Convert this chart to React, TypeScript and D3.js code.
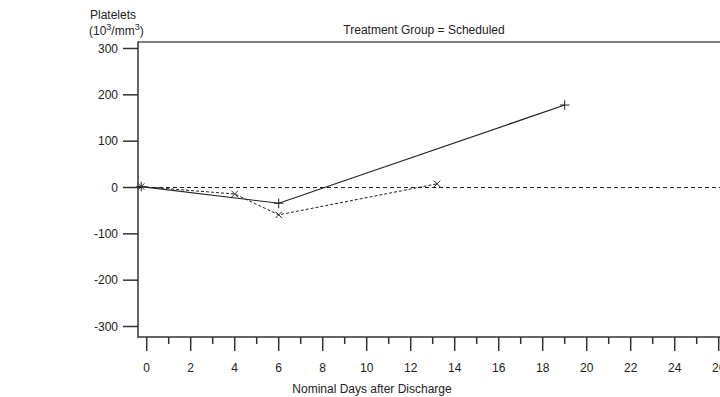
import React, { useEffect, useRef } from 'react';
import * as d3 from 'd3';

const scheduledDays = [-0.25, 6, 19];
const scheduledValues = [2, -34, 178];
const otherDays = [-0.25, 4, 6, 13.2];
const otherValues = [2, -14, -59, 8];
const yTicks = [-300, -200, -100, 0, 100, 200, 300];
const xMajorTicks = [0, 2, 4, 6, 8, 10, 12, 14, 16, 18, 20, 22, 24, 26];
const xMinorTicks = [1, 3, 5, 7, 9, 11, 13, 15, 17, 19, 21, 23, 25];

const W = 720;
const H = 397;
const FONT = '"Liberation Sans Narrow", "Arial Narrow", "Liberation Sans", Arial, sans-serif';

const App = () => {
  const svgRef = useRef<SVGSVGElement>(null);

  useEffect(() => {
    const svg = d3.select(svgRef.current);
    svg.selectAll('*').remove();

    // plot frame
    const left = 138;
    const right = W;
    const top = 42;
    const bottom = 337;

    const x = d3.scaleLinear().domain([0, 26]).range([146.7, 718.7]);
    const y = d3.scaleLinear().domain([-300, 300]).range([326.5, 48.5]);

    const ink = '#333';

    svg.append('line')
      .attr('x1', left).attr('x2', right).attr('y1', top).attr('y2', top)
      .attr('stroke', '#555').attr('stroke-width', 1.5);
    svg.append('line')
      .attr('x1', left).attr('x2', left).attr('y1', top - 0.75).attr('y2', bottom + 0.75)
      .attr('stroke', ink).attr('stroke-width', 1.5);
    svg.append('line')
      .attr('x1', left).attr('x2', right).attr('y1', bottom).attr('y2', bottom)
      .attr('stroke', ink).attr('stroke-width', 1.5);

    // y axis ticks
    const yAxis = svg.append('g');
    yTicks.forEach(t => {
      yAxis.append('line')
        .attr('x1', left - 15).attr('x2', left).attr('y1', y(t)).attr('y2', y(t))
        .attr('stroke', ink).attr('stroke-width', 1.5);
      yAxis.append('text')
        .attr('x', left - 20).attr('y', y(t)).attr('dy', '0.35em')
        .attr('text-anchor', 'end')
        .text(t);
    });

    // x axis ticks
    const xAxis = svg.append('g');
    xMajorTicks.forEach(t => {
      xAxis.append('line')
        .attr('x1', x(t)).attr('x2', x(t)).attr('y1', bottom).attr('y2', bottom + 14)
        .attr('stroke', ink).attr('stroke-width', 1.5);
      xAxis.append('text')
        .attr('x', x(t)).attr('y', 368).attr('dy', '0.35em')
        .attr('text-anchor', 'middle')
        .text(t);
    });
    xMinorTicks.forEach(t => {
      xAxis.append('line')
        .attr('x1', x(t)).attr('x2', x(t)).attr('y1', bottom).attr('y2', bottom + 7)
        .attr('stroke', ink).attr('stroke-width', 1.5);
    });

    svg.selectAll('text')
      .attr('font-family', FONT).attr('font-size', 12).attr('fill', '#222');

    // reference line at zero
    svg.append('line')
      .attr('x1', left).attr('x2', right).attr('y1', y(0)).attr('y2', y(0))
      .attr('stroke', '#222').attr('stroke-width', 1)
      .attr('stroke-dasharray', '4,3');

    const line = d3.line<[number, number]>()
      .x(d => x(d[0]))
      .y(d => y(d[1]));

    const scheduled: [number, number][] = scheduledDays.map((d, i) => [d, scheduledValues[i]]);
    const other: [number, number][] = otherDays.map((d, i) => [d, otherValues[i]]);

    svg.append('path')
      .datum(other)
      .attr('fill', 'none').attr('stroke', '#222').attr('stroke-width', 1)
      .attr('stroke-dasharray', '3,2')
      .attr('d', line);

    svg.append('path')
      .datum(scheduled)
      .attr('fill', 'none').attr('stroke', '#222').attr('stroke-width', 1.2)
      .attr('d', line);

    const plus = d3.symbol().type(d3.symbolPlus).size(32);
    const times = d3.symbol().type(d3.symbolTimes).size(28);

    svg.selectAll('path.plus')
      .data(scheduled)
      .enter()
      .append('path')
      .attr('class', 'plus')
      .attr('transform', d => `translate(${x(d[0])},${y(d[1])})`)
      .attr('d', plus)
      .attr('fill', 'none').attr('stroke', '#222').attr('stroke-width', 1);

    svg.selectAll('path.times')
      .data(other)
      .enter()
      .append('path')
      .attr('class', 'times')
      .attr('transform', d => `translate(${x(d[0])},${y(d[1])})`)
      .attr('d', times)
      .attr('fill', 'none').attr('stroke', '#222').attr('stroke-width', 1);

    // titles
    const labels = svg.append('g')
      .attr('font-family', FONT).attr('font-size', 12).attr('fill', '#222');
    labels.append('text')
      .attr('x', 424).attr('y', 34).attr('text-anchor', 'middle')
      .text('Treatment Group = Scheduled');
    labels.append('text')
      .attr('x', 372).attr('y', 393).attr('text-anchor', 'middle')
      .text('Nominal Days after Discharge');
    labels.append('text')
      .attr('x', 90).attr('y', 19)
      .text('Platelets');
    const unit = labels.append('text').attr('x', 89).attr('y', 35);
    unit.append('tspan').text('(10');
    unit.append('tspan').attr('font-size', 9).attr('dy', -5).text('3');
    unit.append('tspan').attr('dy', 5).text('/mm');
    unit.append('tspan').attr('font-size', 9).attr('dy', -5).text('3');
    unit.append('tspan').attr('dy', 5).text(')');
  }, []);

  return (
    <div style={{ position: 'absolute', left: 0, top: 0, width: W, height: H, background: 'white' }}>
      <svg ref={svgRef} width={W} height={H}></svg>
    </div>
  );
};

export default App;
